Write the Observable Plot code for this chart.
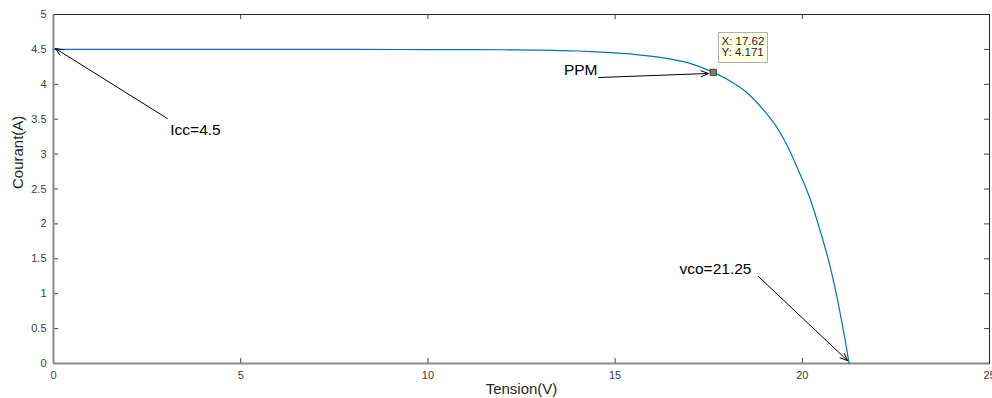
<!DOCTYPE html>
<html>
<head>
<meta charset="utf-8">
<script src="https://cdn.jsdelivr.net/npm/d3@7"></script>
<script src="https://cdn.jsdelivr.net/npm/@observablehq/plot@0.6"></script>
<style>
  html, body { margin: 0; padding: 0; background: #fff; }
  #chart svg { display: block; }
</style>
</head>
<body>
<div id="chart"></div>
<script>
// Data (I-V curve of a PV panel)
const tension = [0, 2, 4, 6, 8, 10, 11, 12, 13, 14, 14.5, 15, 15.5, 16, 16.5, 17, 17.62, 18, 18.5, 19, 19.3, 19.6, 19.9, 20.2, 20.5, 20.7, 20.9, 21.05, 21.15, 21.25];
const courant = [4.5, 4.5, 4.5, 4.5, 4.5, 4.498, 4.497, 4.495, 4.49, 4.477, 4.465, 4.45, 4.43, 4.40, 4.36, 4.30, 4.171, 4.07, 3.89, 3.61, 3.40, 3.12, 2.76, 2.37, 1.86, 1.48, 1.02, 0.61, 0.32, 0];

const xTicks = [0, 5, 10, 15, 20, 25];
const yTicks = [0, 0.5, 1, 1.5, 2, 2.5, 3, 3.5, 4, 4.5, 5];

// Annotations (data units)
const annLabels = ["Icc=4.5", "PPM", "vco=21.25"];
const annTextX = [3.12, 14.53, 16.72];
const annTextY = [3.35, 4.21, 1.36];
const annAnchor = ["start", "end", "start"];
const arrowX1 = [3.04, 14.56, 18.83];
const arrowY1 = [3.51, 4.097, 1.246];
const arrowX2 = [0.05, 17.49, 21.21];
const arrowY2 = [4.513, 4.155, 0.04];

const ppmX = 17.62;
const ppmY = 4.171;
const tipText = "X: 17.62\nY: 4.171";

const curve = tension.map((v, i) => ({v, i: courant[i]}));
const ann = annLabels.map((t, k) => ({t, x: annTextX[k], y: annTextY[k], a: annAnchor[k]}));
const annStart = ann.filter(d => d.a === "start");
const annEnd = ann.filter(d => d.a === "end");
const arrows = arrowX1.map((x1, k) => ({x1, y1: arrowY1[k], x2: arrowX2[k], y2: arrowY2[k]}));
const ppm = [{x: ppmX, y: ppmY, t: tipText}];

const FONT = "'Liberation Sans', Arial, Helvetica, sans-serif";

const chart = Plot.plot({
  width: 992,
  height: 398,
  marginLeft: 53,
  marginRight: 3,
  marginTop: 14,
  marginBottom: 35,
  style: {fontFamily: FONT, background: "#fff", color: "#262626"},
  x: {domain: [0, 25], ticks: xTicks},
  y: {domain: [0, 5], ticks: yTicks},
  marks: [
    Plot.axisX(xTicks, {tickSize: 0, tickPadding: 8, fontSize: 11, label: null, fill: "#404040", tickFormat: d => String(d)}),
    Plot.axisY(yTicks, {tickSize: 0, tickPadding: 7, fontSize: 11, label: null, fill: "#404040", tickFormat: d => String(d)}),
    // inward ticks (bottom, top, left, right)
    Plot.tickX(xTicks, {x: d => d, insetTop: 344, stroke: "#404040"}),
    Plot.tickX(xTicks, {x: d => d, insetBottom: 344, stroke: "#404040"}),
    Plot.tickY(yTicks, {y: d => d, insetRight: 931, stroke: "#404040"}),
    Plot.tickY(yTicks, {y: d => d, insetLeft: 931, stroke: "#404040"}),
    Plot.frame({stroke: "#262626", strokeWidth: 1}),
    Plot.ruleX([0], {stroke: "#8a8a8a", strokeWidth: 2}),
    Plot.ruleY([0], {stroke: "#8a8a8a", strokeWidth: 2}),
    Plot.text(["Tension(V)"], {frameAnchor: "bottom", lineAnchor: "middle", dy: 26, fontSize: 15, fill: "#262626"}),
    Plot.text(["Courant(A)"], {frameAnchor: "left", lineAnchor: "middle", dx: -35, rotate: -90, fontSize: 15, fill: "#262626"}),
    Plot.line(curve, {x: "v", y: "i", stroke: "#0072BD", strokeWidth: 1.2, curve: "monotone-x"}),
    Plot.arrow(arrows, {x1: "x1", y1: "y1", x2: "x2", y2: "y2", stroke: "#000", strokeWidth: 1, headLength: 12, headAngle: 45}),
    Plot.text(annStart, {x: "x", y: "y", text: "t", textAnchor: "start", fontSize: 15.5, fill: "#000"}),
    Plot.text(annEnd, {x: "x", y: "y", text: "t", textAnchor: "end", fontSize: 15.5, fill: "#000"}),
    Plot.dot(ppm, {x: "x", y: "y", symbol: "square", r: 3.6, fill: "#7d7d60", stroke: "#333", strokeWidth: 0.8}),
    Plot.tip(ppm, {x: "x", y: "y", title: "t", anchor: "bottom-left", pointerSize: 0, dx: 5, dy: -10,
      fill: "#ffffe1", stroke: "#b0b0b0", fontSize: 11.5, textPadding: 3, lineHeight: 1.0, pathFilter: "none"})
  ]
});

document.getElementById("chart").appendChild(chart);
</script>
</body>
</html>
